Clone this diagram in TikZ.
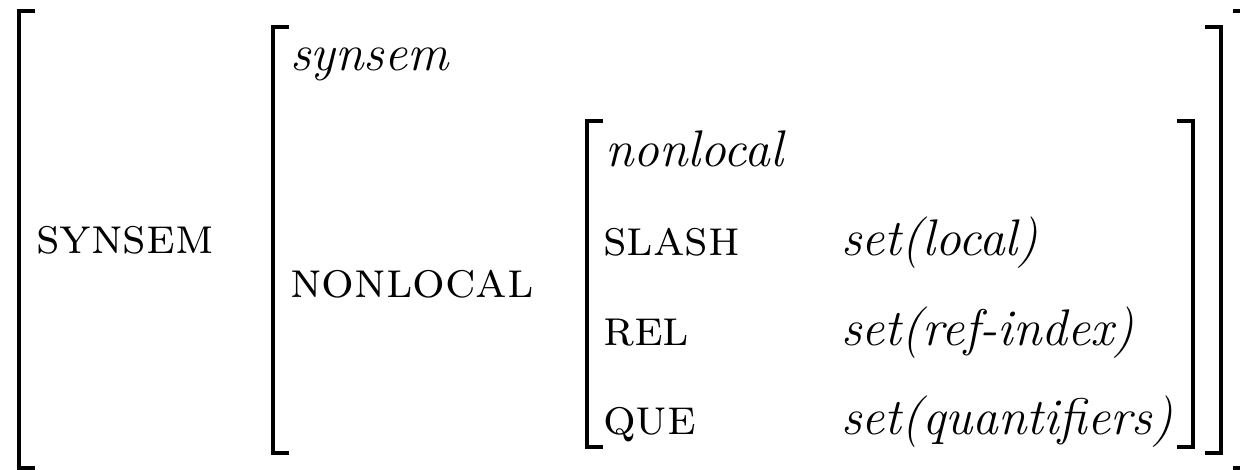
\documentclass[tikz,border=0pt]{standalone}
\usepackage{fontspec}
\begin{document}
\begin{tikzpicture}[x=1pt,y=-1pt,
  brk/.style={line width=4pt, line cap=butt, line join=miter},
  attr/.style={anchor=base west, inner sep=0pt, font=\fontsize{51.5}{60}\selectfont\scshape},
  typ/.style={anchor=base west, inner sep=0pt, font=\fontsize{51.5}{60}\selectfont\itshape}]
\useasboundingbox (0,0) rectangle (1240,469);
\clip (0,0) rectangle (1240,469);
% outer matrix
\draw[brk] (35,11) -- (18.7,11) -- (18.7,467.5) -- (35,467.5);
\draw[brk] (1233,11) -- (1253,11) -- (1253,467.5) -- (1233,467.5);
% synsem matrix
\draw[brk] (289,27) -- (273,27) -- (273,452.5) -- (289,452.5);
\draw[brk] (1205,27) -- (1220.5,27) -- (1220.5,452.5) -- (1205,452.5);
% nonlocal matrix
\draw[brk] (603,121) -- (587,121) -- (587,447) -- (603,447);
\draw[brk] (1177,121) -- (1193,121) -- (1193,447) -- (1177,447);
% texts
\node[attr] (synsemA) at (36,253) {synsem};
\node[typ] (synsemT) at (290,70) {synsem};
\node[attr] (nonlocA) at (290,297) {nonlocal};
\node[typ] (nonlocT) at (605,166) {nonlocal};
\node[attr] (slash) at (603,255.5) {slash};
\node[typ] (slashV) at (841,255.5) {set(local)};
\node[attr] (rel) at (603,345) {rel};
\node[typ] (relV) at (841,345) {set(ref-index)};
\node[attr] (que) at (603,434.5) {que};
\node[typ] (queV) at (841,434.5) {set(quantifiers)};
\end{tikzpicture}
\end{document}
